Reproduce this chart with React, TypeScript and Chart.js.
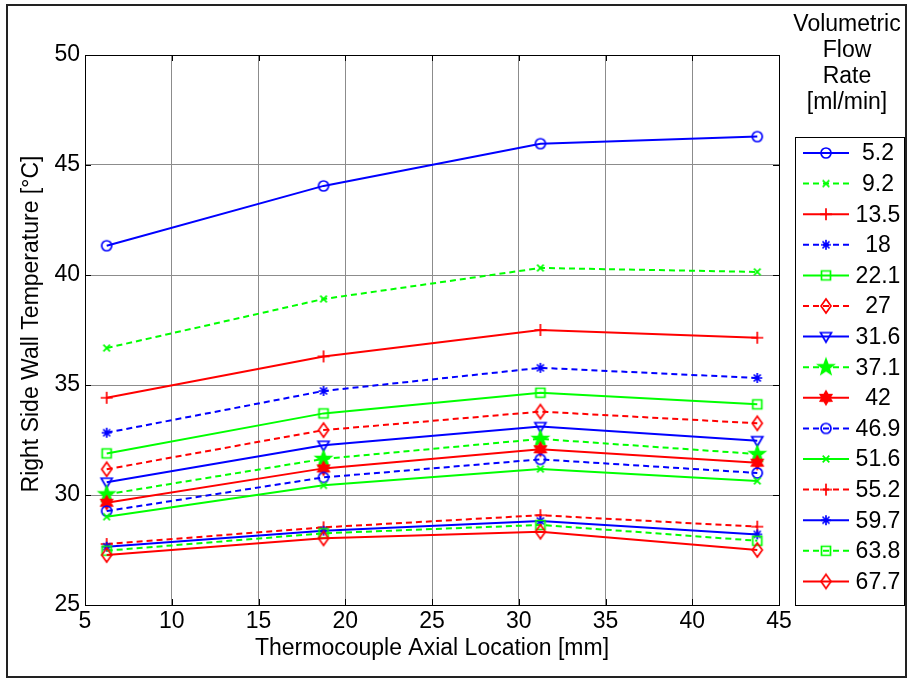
import React, { useEffect, useRef } from "react";
import { Chart, registerables } from "chart.js";

Chart.register(...registerables);

// ---- data ----
const locations = [6.25, 18.75, 31.25, 43.75];
const flowRates = ["5.2", "9.2", "13.5", "18", "22.1", "27", "31.6", "37.1", "42", "46.9", "51.6", "55.2", "59.7", "63.8", "67.7"];
const q5_2 = [41.33, 44.05, 45.97, 46.29];
const q9_2 = [36.68, 38.91, 40.32, 40.14];
const q13_5 = [34.42, 36.3, 37.5, 37.15];
const q18 = [32.83, 34.73, 35.78, 35.32];
const q22_1 = [31.89, 33.71, 34.65, 34.12];
const q27 = [31.17, 32.95, 33.79, 33.26];
const q31_6 = [30.58, 32.26, 33.11, 32.47];
const q37_1 = [30.03, 31.64, 32.55, 31.86];
const q42 = [29.65, 31.21, 32.08, 31.47];
const q46_9 = [29.27, 30.8, 31.62, 31.0];
const q51_6 = [29.01, 30.44, 31.18, 30.64];
const q55_2 = [27.77, 28.53, 29.08, 28.56];
const q59_7 = [27.65, 28.38, 28.82, 28.21];
const q63_8 = [27.47, 28.26, 28.64, 27.92];
const q67_7 = [27.27, 28.03, 28.33, 27.5];
const seriesValues = [q5_2, q9_2, q13_5, q18, q22_1, q27, q31_6, q37_1, q42, q46_9, q51_6, q55_2, q59_7, q63_8, q67_7];
const xTickValues = [5, 10, 15, 20, 25, 30, 35, 40, 45];
const yTickValues = [25, 30, 35, 40, 45, 50];

const xTitle = "Thermocouple Axial Location [mm]";
const yTitle = "Right Side Wall Temperature [\u00B0C]";
const legendTitle = ["Volumetric", "Flow", "Rate", "[ml/min]"];

// ---- styles ----
const palette = ["#0000ff", "#00ff00", "#ff0000"];
const markerKinds = ["o", "x", "+", "*", "s", "d", "v", "p", "h", "o", "x", "+", "*", "s", "d"];
const FONT = '"Liberation Sans", Arial, Helvetica, sans-serif';
const FS = 23;

function makeMarker(kind: string, color: string): HTMLCanvasElement {
  const S = 22;
  const c = document.createElement("canvas");
  c.width = S;
  c.height = S;
  const g = c.getContext("2d")!;
  g.translate(S / 2, S / 2);
  g.strokeStyle = color;
  g.fillStyle = color;
  g.lineWidth = 1.7;
  g.lineJoin = "miter";
  g.beginPath();
  let fill = false;
  const star = (n: number, ro: number, ri: number) => {
    for (let i = 0; i < n * 2; i++) {
      const r = i % 2 === 0 ? ro : ri;
      const a = -Math.PI / 2 + (i * Math.PI) / n;
      const px = r * Math.cos(a);
      const py = r * Math.sin(a);
      if (i === 0) g.moveTo(px, py);
      else g.lineTo(px, py);
    }
    g.closePath();
  };
  switch (kind) {
    case "o":
      g.arc(0, 0, 5, 0, Math.PI * 2);
      break;
    case "x":
      g.moveTo(-3.3, -3.3); g.lineTo(3.3, 3.3);
      g.moveTo(3.3, -3.3); g.lineTo(-3.3, 3.3);
      break;
    case "+":
      g.moveTo(-6, 0); g.lineTo(6, 0);
      g.moveTo(0, -6); g.lineTo(0, 6);
      break;
    case "*":
      g.moveTo(-5, 0); g.lineTo(5, 0);
      g.moveTo(0, -5); g.lineTo(0, 5);
      g.moveTo(-3.5, -3.5); g.lineTo(3.5, 3.5);
      g.moveTo(3.5, -3.5); g.lineTo(-3.5, 3.5);
      break;
    case "s":
      g.rect(-4.5, -4.5, 9, 9);
      break;
    case "d":
      g.moveTo(0, -7); g.lineTo(5, 0); g.lineTo(0, 7); g.lineTo(-5, 0); g.closePath();
      break;
    case "v":
      g.moveTo(-5.5, -4); g.lineTo(5.5, -4); g.lineTo(0, 5.5); g.closePath();
      break;
    case "p":
      star(5, 8, 3.3);
      fill = true;
      break;
    case "h":
      star(6, 6.5, 3.8);
      fill = true;
      break;
  }
  if (fill) g.fill();
  g.stroke();
  return c;
}

export default function App() {
  const ref = useRef<HTMLCanvasElement | null>(null);

  useEffect(() => {
    const canvas = ref.current;
    if (!canvas) return;
    const markers = markerKinds.map((k, i) => makeMarker(k, palette[i % 3]));

    const datasets = seriesValues.map((vals, i) => ({
      label: flowRates[i],
      data: vals.map((v, j) => ({ x: locations[j], y: v })),
      borderColor: palette[i % 3],
      backgroundColor: palette[i % 3],
      borderWidth: 2,
      borderDash: i % 2 === 1 ? [6, 4] : [],
      pointStyle: markers[i],
      pointRadius: 5,
      pointHoverRadius: 5,
      fill: false,
      tension: 0,
      order: seriesValues.length - i,
    }));

    const decor = {
      id: "decor",
      beforeDraw(chart: any) {
        const ctx = chart.ctx;
        ctx.save();
        ctx.fillStyle = "#ffffff";
        ctx.fillRect(0, 0, chart.width, chart.height);
        ctx.restore();
      },
      afterDraw(chart: any) {
        const ctx = chart.ctx;
        const a = chart.chartArea;
        const xs = chart.scales.x;
        const ys = chart.scales.y;
        ctx.save();
        // axes box
        ctx.strokeStyle = "#000";
        ctx.lineWidth = 1;
        ctx.strokeRect(Math.round(a.left) + 0.5, Math.round(a.top) + 0.5, Math.round(a.right - a.left), Math.round(a.bottom - a.top));
        // inward ticks
        const tl = 6;
        ctx.beginPath();
        xTickValues.forEach((v) => {
          const px = Math.round(xs.getPixelForValue(v)) + 0.5;
          ctx.moveTo(px, a.bottom); ctx.lineTo(px, a.bottom - tl);
          ctx.moveTo(px, a.top); ctx.lineTo(px, a.top + tl);
        });
        yTickValues.forEach((v) => {
          const py = Math.round(ys.getPixelForValue(v)) + 0.5;
          ctx.moveTo(a.left, py); ctx.lineTo(a.left + tl, py);
          ctx.moveTo(a.right, py); ctx.lineTo(a.right - tl, py);
        });
        ctx.stroke();

        // axis titles
        ctx.fillStyle = "#000";
        ctx.font = `${FS}px ${FONT}`;
        ctx.textAlign = "center";
        ctx.textBaseline = "middle";
        ctx.fillText(xTitle, (a.left + a.right) / 2, 649);
        ctx.save();
        ctx.translate(32, (a.top + a.bottom) / 2 - 6);
        ctx.rotate(-Math.PI / 2);
        ctx.fillText(yTitle, 0, 0);
        ctx.restore();

        // legend title
        legendTitle.forEach((t, i) => ctx.fillText(t, 847, 25 + i * 26));

        // legend box
        const bx = 795, by = 137, bw = 109, bh = 468;
        ctx.fillStyle = "#fff";
        ctx.fillRect(bx, by, bw, bh);
        ctx.strokeStyle = "#000";
        ctx.lineWidth = 1;
        ctx.strokeRect(bx + 0.5, by + 0.5, bw, bh);
        const step = 30.6;
        chart.data.datasets.forEach((ds: any, i: number) => {
          const y = 153 + i * step;
          ctx.save();
          ctx.strokeStyle = ds.borderColor;
          ctx.lineWidth = 2;
          ctx.setLineDash(ds.borderDash);
          ctx.beginPath();
          ctx.moveTo(803, y);
          ctx.lineTo(849, y);
          ctx.stroke();
          ctx.restore();
          const m = ds.pointStyle as HTMLCanvasElement;
          ctx.drawImage(m, 826 - m.width / 2, y - m.height / 2);
          ctx.fillStyle = "#000";
          ctx.font = `${FS}px ${FONT}`;
          ctx.textAlign = "center";
          ctx.textBaseline = "middle";
          ctx.fillText(ds.label, 878, y + 1);
        });

        // outer figure border
        ctx.strokeStyle = "#222";
        ctx.lineWidth = 2;
        ctx.strokeRect(7, 5, 899, 672);
        ctx.restore();
      },
    };

    const chart = new Chart(canvas, {
      type: "line",
      data: { datasets },
      options: {
        animation: false,
        responsive: false,
        maintainAspectRatio: false,
        layout: { padding: { left: 0, top: 55, right: 130, bottom: 0 } },
        plugins: { legend: { display: false }, tooltip: { enabled: false }, title: { display: false } },
        events: [],
        scales: {
          x: {
            type: "linear",
            min: 5,
            max: 45,
            afterFit: (s: any) => { s.height = 74; },
            afterBuildTicks: (s: any) => { s.ticks = xTickValues.map((v) => ({ value: v })); },
            ticks: { color: "#000", font: { family: FONT, size: FS }, padding: 3, maxRotation: 0, autoSkip: false },
            grid: { color: "#8c8c8c", lineWidth: 1, drawTicks: false },
            border: { display: true, color: "#000", width: 1 },
            title: { display: false },
          },
          y: {
            type: "linear",
            min: 25,
            max: 50,
            afterFit: (s: any) => { s.width = 85; },
            afterBuildTicks: (s: any) => { s.ticks = yTickValues.map((v) => ({ value: v })); },
            ticks: { color: "#000", font: { family: FONT, size: FS }, padding: 5, autoSkip: false },
            grid: { color: "#8c8c8c", lineWidth: 1, drawTicks: false },
            border: { display: true, color: "#000", width: 1 },
            title: { display: false },
          },
        },
      } as any,
      plugins: [decor],
    });
    return () => chart.destroy();
  }, []);

  return (
    <div style={{ position: "fixed", left: 0, top: 0, width: 909, height: 679, background: "#fff" }}>
      <canvas ref={ref} width={909} height={679} style={{ display: "block", width: 909, height: 679 }} />
    </div>
  );
}
